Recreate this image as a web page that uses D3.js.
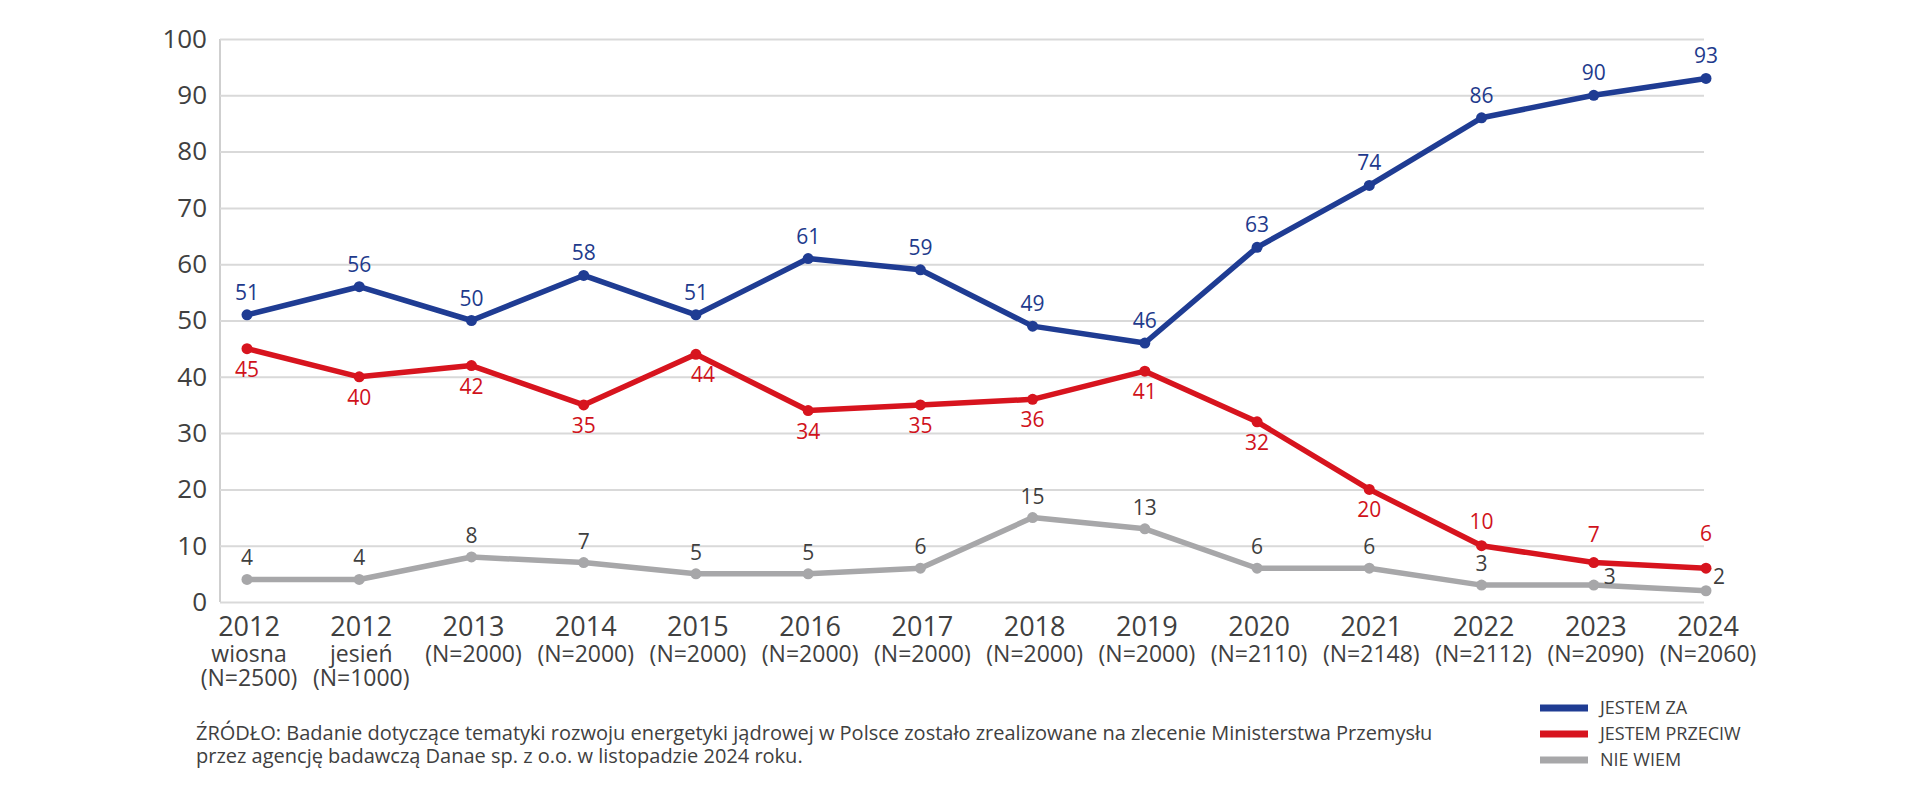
<!DOCTYPE html>
<meta charset="utf-8">
<html>
<head>
    <title>Poparcie dla energetyki jądrowej w Polsce</title>
    <script src="https://cdn.jsdelivr.net/npm/d3@7"></script>
</head>
<style>
    body{
        margin: 0;
        background: #ffffff;
    }
    svg{
        width: 1920px;
        height: 810px;
        display: block;
    }
    text{
        font-family: "Open Sans", sans-serif;
        fill: #404040;
    }
    .grid line{
        stroke: #d9d9d9;
        stroke-width: 2px;
    }
    .grid .domain{
        stroke: #bfbfbf;
        stroke-width: 1.5px;
    }
</style>
<body>
<svg></svg>

<script>
    // ***************************************
    //        data
    // ***************************************
    const years = ["2012", "2012", "2013", "2014", "2015", "2016", "2017", "2018", "2019", "2020", "2021", "2022", "2023", "2024"]
    const sublabels = [
        ["wiosna", "(N=2500)"], ["jesień", "(N=1000)"],
        ["(N=2000)"], ["(N=2000)"], ["(N=2000)"], ["(N=2000)"], ["(N=2000)"], ["(N=2000)"], ["(N=2000)"],
        ["(N=2110)"], ["(N=2148)"], ["(N=2112)"], ["(N=2090)"], ["(N=2060)"]
    ]
    const jestemZa      = [51, 56, 50, 58, 51, 61, 59, 49, 46, 63, 74, 86, 90, 93]
    const jestemPrzeciw = [45, 40, 42, 35, 44, 34, 35, 36, 41, 32, 20, 10, 7, 6]
    const nieWiem       = [4, 4, 8, 7, 5, 5, 6, 15, 13, 6, 6, 3, 3, 2]
    const yTicks = [0, 10, 20, 30, 40, 50, 60, 70, 80, 90, 100]
    const seriesNames = ["JESTEM ZA", "JESTEM PRZECIW", "NIE WIEM"]
    const sourceLines = [
        "ŹRÓDŁO: Badanie dotyczące tematyki rozwoju energetyki jądrowej w Polsce zostało zrealizowane na zlecenie Ministerstwa Przemysłu",
        "przez agencję badawczą Danae sp. z o.o. w listopadzie 2024 roku."
    ]

    const svg = d3.select("svg")
    const plotLeft = 220, plotRight = 1704, plotTop = 39, plotBottom = 602

    const idx = d3.range(years.length)
    const x = d3.scalePoint().domain(idx).range([247, 1706])
    const y = d3.scaleLinear().domain([0, 100]).range([plotBottom, plotTop])

    // ***************************************
    //        grid + y axis
    // ***************************************
    const yAxis = svg.append("g")
        .attr("class", "grid")
        .attr("transform", `translate(${plotLeft},0)`)
        .call(d3.axisLeft(y).tickValues(yTicks).tickSize(-(plotRight - plotLeft)).tickPadding(13).tickSizeOuter(0))
    yAxis.selectAll("text")
        .style("font-size", "26px")
        .style("fill", "#404040")
    yAxis.select(".domain").attr("d", `M0,${plotTop}V${plotBottom}`)

    // ***************************************
    //        x labels
    // ***************************************
    const xl = svg.append("g").selectAll("g")
        .data(idx)
        .enter()
        .append("g")
        .attr("transform", d => `translate(${x(d) + 2},0)`)
    xl.append("text")
        .attr("y", 636)
        .attr("text-anchor", "middle")
        .style("font-size", "27px")
        .text(d => years[d])
    xl.each(function (d) {
        const g = d3.select(this)
        sublabels[d].forEach((s, i) => {
            g.append("text")
                .attr("y", 662 + i * 24)
                .attr("text-anchor", "middle")
                .style("font-size", "23px")
                .text(s)
        })
    })

    // ***************************************
    //        series
    // ***************************************
    const series = [
        {name: seriesNames[0], values: jestemZa, color: "#1f3c93", label: "#1e3a8c"},
        {name: seriesNames[1], values: jestemPrzeciw, color: "#d7141e", label: "#d0121b"},
        {name: seriesNames[2], values: nieWiem, color: "#a7a7a9", label: "#3f3f3f"}
    ]

    // label offset per point (dx, dy of baseline)
    function labelPos(s, i) {
        if (s === 0) return [0, -15]
        if (s === 1) {
            if (i === 4) return [7, 28]
            if (i === 11) return [0, -17]
            if (i === 12) return [0, -21]
            if (i === 13) return [0, -27]
            return [0, 28]
        }
        if (i === 12) return [16, -1]
        if (i === 13) return [13, -7]
        return [0, -14]
    }

    const line = d3.line().x((d, i) => x(i)).y(d => y(d))

    // draw order: gray, red, blue
    ;[2, 1, 0].forEach(s => {
        const ser = series[s]
        const g = svg.append("g")
        g.append("path")
            .attr("d", line(ser.values))
            .attr("fill", "none")
            .attr("stroke", ser.color)
            .attr("stroke-width", 5.5)
            .attr("stroke-linejoin", "round")
        g.selectAll("circle")
            .data(ser.values)
            .enter()
            .append("circle")
            .attr("cx", (d, i) => x(i))
            .attr("cy", d => y(d))
            .attr("r", 5.5)
            .attr("fill", ser.color)
        g.selectAll("text")
            .data(ser.values)
            .enter()
            .append("text")
            .attr("x", (d, i) => x(i) + labelPos(s, i)[0])
            .attr("y", (d, i) => y(d) + labelPos(s, i)[1])
            .attr("text-anchor", "middle")
            .style("font-size", "21px")
            .style("fill", ser.label)
            .text(d => d)
    })

    // ***************************************
    //        legend
    // ***************************************
    const legend = svg.append("g").selectAll("g")
        .data(series)
        .enter()
        .append("g")
        .attr("transform", (d, i) => `translate(1540, ${708 + i * 26})`)
    legend.append("line")
        .attr("x1", 0).attr("x2", 48)
        .attr("stroke", d => d.color)
        .attr("stroke-width", 7)
    legend.append("text")
        .attr("x", 60)
        .attr("dy", "0.35em")
        .style("font-size", "18px")
        .text(d => d.name)

    // ***************************************
    //        source
    // ***************************************
    svg.append("g").selectAll("text")
        .data(sourceLines)
        .enter()
        .append("text")
        .attr("x", 196)
        .attr("y", (d, i) => 740 + i * 23)
        .style("font-size", "20px")
        .text(d => d)
</script>
</body>
</html>
